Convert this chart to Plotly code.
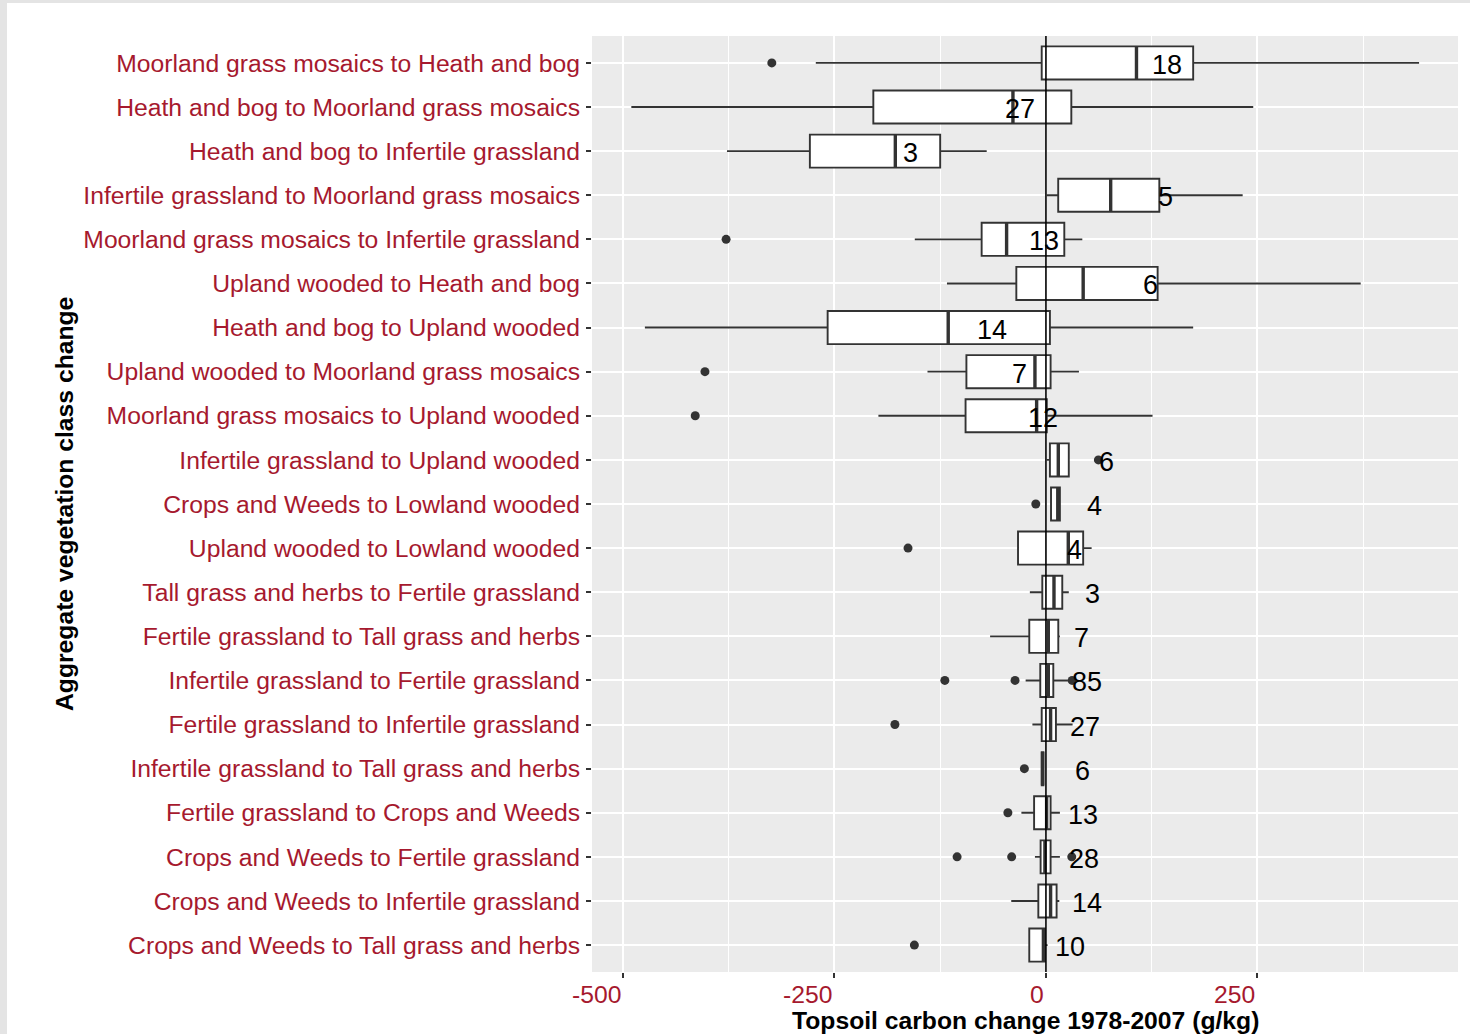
import plotly.graph_objects as go

# Vegetation class transitions, top to bottom
categories = [
    "Moorland grass mosaics to Heath and bog",
    "Heath and bog to Moorland grass mosaics",
    "Heath and bog to Infertile grassland",
    "Infertile grassland to Moorland grass mosaics",
    "Moorland grass mosaics to Infertile grassland",
    "Upland wooded to Heath and bog",
    "Heath and bog to Upland wooded",
    "Upland wooded to Moorland grass mosaics",
    "Moorland grass mosaics to Upland wooded",
    "Infertile grassland to Upland wooded",
    "Crops and Weeds to Lowland wooded",
    "Upland wooded to Lowland wooded",
    "Tall grass and herbs to Fertile grassland",
    "Fertile grassland to Tall grass and herbs",
    "Infertile grassland to Fertile grassland",
    "Fertile grassland to Infertile grassland",
    "Infertile grassland to Tall grass and herbs",
    "Fertile grassland to Crops and Weeds",
    "Crops and Weeds to Fertile grassland",
    "Crops and Weeds to Infertile grassland",
    "Crops and Weeds to Tall grass and herbs",
]

# Box statistics of topsoil carbon change (g/kg)
lower_whisker = [-272, -490, -377, 1, -155, -117, -474, -140, -198, 1, 6, -33,
                 -19, -66, -24, -16, -5, -29, -13, -41, -20]
q1 = [-5, -204, -279, 14.5, -76, -35, -258, -94, -95, 4.7, 6, -33,
      -4.3, -19.7, -6.7, -5, -5, -14, -6.3, -9, -19.7]
median = [107, -39, -178, 76.5, -46.5, 44, -115.5, -13, -11, 14.6, 14, 26.4,
          9.5, 2.8, 2.8, 5.5, -4, 0.8, -1.2, 5.5, -3]
q3 = [174, 30, -125, 134, 21.7, 132, 4.7, 5.5, 1, 27, 16.5, 44,
      19.3, 14.6, 8.7, 11.8, -3, 5.5, 5.5, 12.6, -1.2]
upper_whisker = [441, 245, -70, 232.5, 43, 372, 174, 39, 126, 27, 16.5, 54,
                 27, 16.5, 26, 31.5, -3, 16.5, 16.5, 15.8, 2]
outliers = [
    [-324], [], [], [], [-378], [], [], [-403], [-414.5], [62], [-12], [-163],
    [], [], [-119.5, -36.5, 31], [-178.5], [-25.5], [-45],
    [-105, -40.5, 30.5], [], [-155.5],
]

# Number of sites per transition and where the count is printed
n_sites = [18, 27, 3, 5, 13, 6, 14, 7, 12, 6, 4, 4, 3, 7, 85, 27, 6, 13, 28, 14, 10]
n_label_x = [143, -31, -160, 141, -2, 123, -64, -31, -4, 72, 57, 34,
             55, 42, 48, 46, 43, 44, 45, 49, 28]

x_tick_vals = [-500, -250, 0, 250]
x_tick_text = ["-500", "-250", "0", "250"]

rows = list(range(len(categories)))
BOX_W = 0.75
LINE = "#333333"
LABEL_RED = "#A6192E"
FONT = "Arial, Liberation Sans, sans-serif"

fig = go.Figure()

fig.add_trace(go.Box(
    y=rows, q1=q1, median=median, q3=q3,
    lowerfence=lower_whisker, upperfence=upper_whisker,
    orientation="h", width=BOX_W, whiskerwidth=0,
    fillcolor="white", line=dict(color=LINE, width=1.9),
    boxpoints=False, hoverinfo="skip", showlegend=False,
))

# Thicker median bars, as in ggplot
med_x, med_y = [], []
for r, m in zip(rows, median):
    med_x += [m, m, None]
    med_y += [r - BOX_W / 2, r + BOX_W / 2, None]
fig.add_trace(go.Scatter(
    x=med_x, y=med_y, mode="lines", line=dict(color=LINE, width=3.4),
    hoverinfo="skip", showlegend=False,
))

# Outlying sites
out_x, out_y = [], []
for r, pts in zip(rows, outliers):
    out_x += pts
    out_y += [r] * len(pts)
fig.add_trace(go.Scatter(
    x=out_x, y=out_y, mode="markers",
    marker=dict(color=LINE, size=9),
    hoverinfo="skip", showlegend=False,
))

L, R, T, B = 592, 12, 36, 62
W, H = 1470, 1034
pw, ph = W - L - R, H - T - B

def px_x(px):
    return (px - L) / pw

def px_y(py):
    return (H - B - py) / ph

shapes = [
    # reference line at zero change
    dict(type="line", xref="x", yref="paper", x0=0, x1=0, y0=0, y1=1,
         line=dict(color="black", width=1.6), layer="above"),
    # light frame strips along the top and left edges
    dict(type="rect", xref="paper", yref="paper", x0=px_x(0), x1=px_x(W),
         y0=px_y(3), y1=px_y(0), fillcolor="#E4E4E4", line=dict(width=0),
         layer="below"),
    dict(type="rect", xref="paper", yref="paper", x0=px_x(0), x1=px_x(7),
         y0=px_y(H), y1=px_y(0), fillcolor="#E4E4E4", line=dict(width=0),
         layer="below"),
]

annotations = []
# Sample size labels
for r, xv, n in zip(rows, n_label_x, n_sites):
    annotations.append(dict(
        x=xv, xref="x", y=r, yref="y", text=str(n), showarrow=False,
        xanchor="center", yanchor="middle", yshift=-2,
        font=dict(family=FONT, size=27, color="black"),
    ))
for v, t in zip(x_tick_vals, x_tick_text):
    annotations.append(dict(
        x=v, xref="x", y=px_y(979), yref="paper", text=t, showarrow=False,
        xanchor="right", yanchor="top",
        font=dict(family=FONT, size=24.7, color=LABEL_RED),
    ))
annotations.append(dict(
    x=0.5, xref="paper", y=px_y(1020), yref="paper",
    text="<b>Topsoil carbon change 1978-2007 (g/kg)</b>", showarrow=False,
    xanchor="center", yanchor="middle",
    font=dict(family=FONT, size=24.7, color="black"),
))
annotations.append(dict(
    x=px_x(64), xref="paper", y=0.5, yref="paper",
    text="<b>Aggregate vegetation class change</b>", showarrow=False,
    textangle=-90, xanchor="center", yanchor="middle",
    font=dict(family=FONT, size=24.7, color="black"),
))

fig.update_layout(
    width=W, height=H,
    margin=dict(l=L, r=R, t=T, b=B, pad=0),
    paper_bgcolor="white", plot_bgcolor="#EBEBEB",
    font=dict(family=FONT),
    shapes=shapes, annotations=annotations,
    xaxis=dict(
        range=[-536.5, 487], tickmode="linear", tick0=0, dtick=250,
        showticklabels=False, ticks="outside", ticklen=5, tickwidth=1.5,
        tickcolor=LINE, showgrid=True, gridcolor="white", gridwidth=2.2,
        zeroline=False, showline=False,
        minor=dict(tickmode="linear", tick0=0, dtick=125, showgrid=True,
                   gridcolor="white", gridwidth=1, ticks=""),
    ),
    yaxis=dict(
        range=[20.61, -0.61], tickmode="array", tickvals=rows,
        ticktext=categories, ticks="outside", ticklen=5, tickwidth=1.5,
        tickcolor=LINE, ticklabelstandoff=1,
        tickfont=dict(family=FONT, size=24.7, color=LABEL_RED),
        showgrid=True, gridcolor="white", gridwidth=2.2,
        zeroline=False, showline=False,
    ),
)

fig.write_html("out.html")
